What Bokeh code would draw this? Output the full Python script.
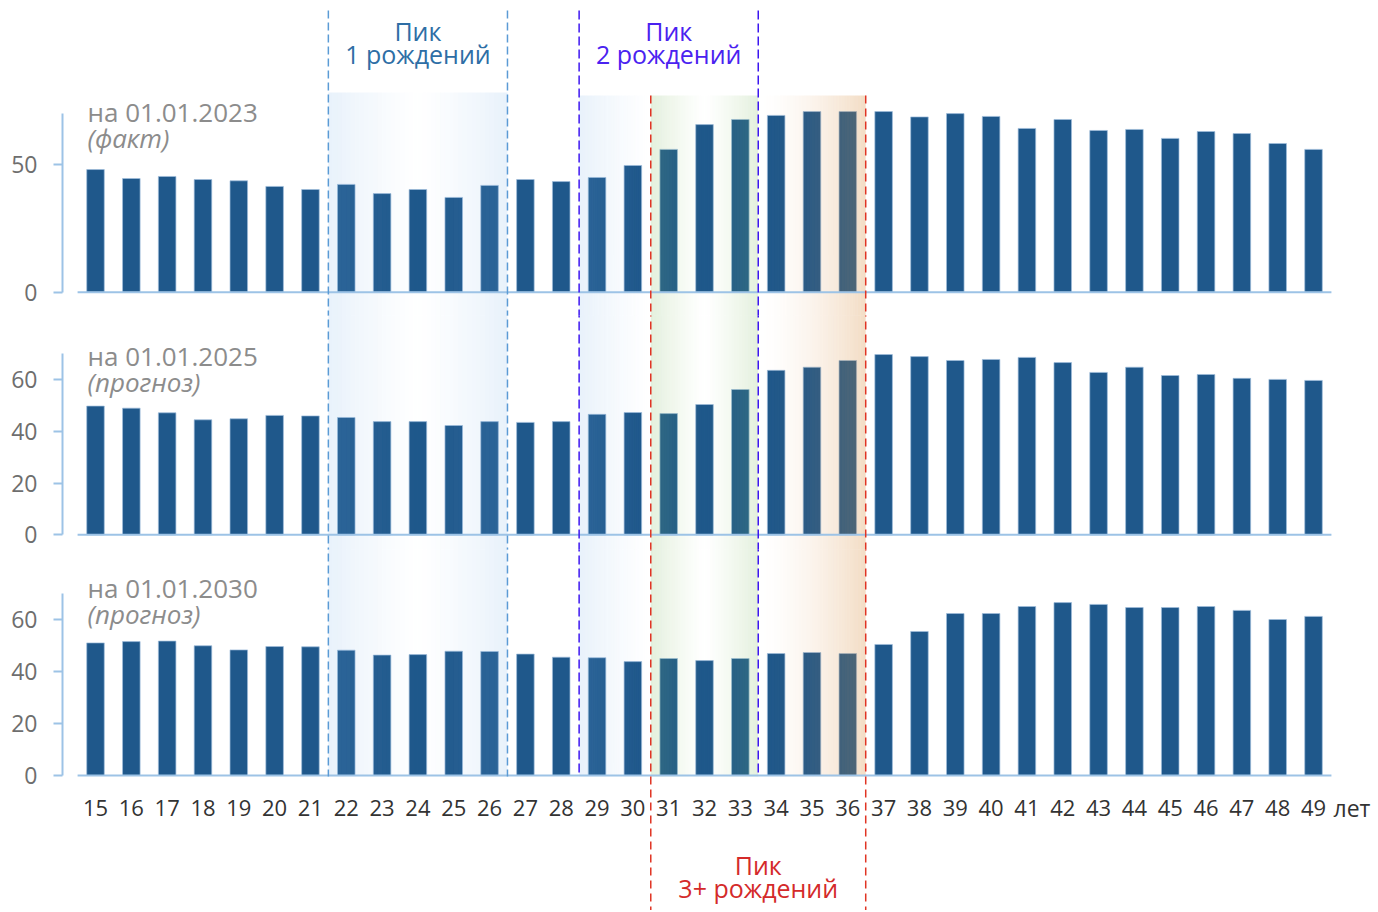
from bokeh.plotting import figure
from bokeh.models import Range1d, FixedTicker, ColumnDataSource
from bokeh.layouts import column
from bokeh.core.properties import value
from bokeh.embed import file_html
from bokeh.resources import INLINE

# ---------------- data ----------------
ages = list(range(15, 50))
age_labels = [str(a) for a in ages]
vals_2023 = [48.0, 44.5, 45.3, 44.1, 43.6, 41.4, 40.2, 42.2, 38.6, 40.2, 37.1, 41.8,
             44.1, 43.3, 44.9, 49.6, 55.9, 65.6, 67.6, 69.2, 70.7, 70.7, 70.7, 68.6,
             69.9, 68.8, 64.1, 67.6, 63.3, 63.7, 60.2, 62.9, 62.1, 58.2, 55.9]
vals_2025 = [49.7, 48.9, 47.1, 44.4, 44.8, 46.1, 45.9, 45.3, 43.7, 43.7, 42.2, 43.7,
             43.4, 43.7, 46.5, 47.2, 46.8, 50.3, 56.1, 63.5, 64.7, 67.3, 69.6, 68.8,
             67.3, 67.7, 68.5, 66.5, 62.7, 64.7, 61.5, 61.9, 60.4, 60.0, 59.6]
vals_2030 = [51.0, 51.5, 51.7, 49.9, 48.3, 49.6, 49.5, 48.2, 46.3, 46.5, 47.8, 47.7,
             46.7, 45.5, 45.3, 43.8, 45.0, 44.2, 45.0, 46.9, 47.3, 46.9, 50.4, 55.4,
             62.3, 62.3, 65.0, 66.5, 65.8, 64.6, 64.6, 65.0, 63.5, 60.0, 61.2]
panel_titles = ["на 01.01.2023", "на 01.01.2025", "на 01.01.2030"]
panel_subtitles = ["(факт)", "(прогноз)", "(прогноз)"]
panel_ticks = [[0, 50], [0, 20, 40, 60], [0, 20, 40, 60]]
peak1_text = ["Пик", "1 рождений"]
peak2_text = ["Пик", "2 рождений"]
peak3_text = ["Пик", "3+ рождений"]
unit_label = "лет"

# ---------------- style / layout ----------------
FONT = value("Open Sans")
BAR = "#1f588b"
AXC = "#9dc3e6"
PX0, SP = 95.0, 35.824          # screen x of first bar centre, spacing
FRAME_L, FRAME_R = 62.0, 1376.0
TXT_DY = -10                    # text baseline correction
x_range = Range1d(15 + (FRAME_L - PX0) / SP, 15 + (FRAME_R - PX0) / SP)

OV = 3  # overlap between stacked figures (px)
# (zero screen y, px per unit, frame top, frame bottom)
panels = [(291.7, 2.555, 0, 318), (534.3, 2.59, 318 - OV, 552), (775.0, 2.6, 552 - OV, 910)]

# shading regions: x0, x1, colour, max alpha, profile, top y, bottom y
shades = [
    (21.5, 26.5, "#78afe6", 0.17, "both", 92, 776),
    (28.5, 30.5, "#78afe6", 0.17, "left", 95, 776),
    (30.5, 33.5, "#7dba5f", 0.21, "both", 95, 776),
    (33.5, 36.5, "#d78c3c", 0.30, "right", 95, 776),
]
# vertical dashed lines: x, colour, dash, top y, bottom y
vlines = [
    (21.5, "#5b9bd5", "8 4", 10, 776), (26.5, "#5b9bd5", "8 4", 10, 776),
    (28.5, "#3d16f0", "9 4", 10, 776), (33.5, "#3d16f0", "9 4", 10, 776),
    (30.5, "#e03424", "8 5", 95, 912), (36.5, "#e03424", "8 5", 95, 912),
]

all_vals = [vals_2023, vals_2025, vals_2030]
figs = []
for idx, (zero, ppu, ftop, fbot) in enumerate(panels):
    d = lambda py, z=zero, k=ppu: (z - py) / k
    p = figure(width=int(FRAME_R), height=int(fbot - ftop), x_range=x_range,
               y_range=Range1d(d(fbot), d(ftop)),
               x_axis_location=None, toolbar_location=None,
               output_backend="svg", min_border_left=int(FRAME_L), min_border_right=0,
               min_border_top=0, min_border_bottom=0)
    if idx > 0:
        p.margin = (-OV, 0, 0, 0)
    p.outline_line_color = None
    p.xgrid.visible = False
    p.ygrid.visible = False
    p.background_fill_color = "white"
    p.border_fill_color = "white"

    # y axis
    ax = p.yaxis[0]
    ax.ticker = FixedTicker(ticks=panel_ticks[idx])
    ax.bounds = (0, 70)
    ax.axis_line_color = AXC
    ax.axis_line_width = 2
    ax.major_tick_line_color = AXC
    ax.major_tick_line_width = 2
    ax.major_tick_out = 9
    ax.major_tick_in = 0
    ax.minor_tick_line_color = None
    ax.major_label_standoff = 16
    ax.major_label_text_font = "Open Sans"
    ax.major_label_text_font_size = "23px"
    ax.major_label_text_color = "#6e6e6e"

    # bars
    src = ColumnDataSource(dict(x=ages, top=all_vals[idx]))
    p.vbar(x="x", top="top", bottom=0, width=0.49, source=src,
           fill_color=BAR, line_color="#9fbedb", line_width=1, line_alpha=0.7)

    # gradient shading overlay (extends past frame edges to avoid seams)
    qs = dict(left=[], right=[], top=[], bottom=[], color=[], alpha=[])
    N = 40
    for (x0, x1, col, amax, prof, stop, sbot) in shades:
        a_top = stop if stop > ftop else ftop - 20
        a_bot = sbot if sbot < fbot else fbot + 20
        if a_top >= a_bot:
            continue
        for i in range(N):
            t = (i + 0.5) / N
            if prof == "both":
                a = amax * abs(2 * t - 1) ** 1.2
            elif prof == "left":
                a = amax * (1 - t) ** 1.3
            else:
                a = amax * t ** 1.6
            qs["left"].append(x0 + (x1 - x0) * i / N)
            qs["right"].append(x0 + (x1 - x0) * (i + 1) / N)
            qs["top"].append(d(a_top))
            qs["bottom"].append(d(a_bot))
            qs["color"].append(col)
            qs["alpha"].append(a)
    if qs["left"]:
        p.quad(left="left", right="right", top="top", bottom="bottom",
               fill_color="color", fill_alpha="alpha", line_color=None,
               source=ColumnDataSource(qs))

    # baseline
    p.segment(x0=[14.5], y0=[0], x1=[49.5], y1=[0], line_color=AXC, line_width=2)

    # dashed vertical lines
    for (xv, col, dash, vtop, vbot) in vlines:
        a_top = vtop if vtop > ftop else ftop - 20
        a_bot = vbot if vbot < fbot else fbot + 20
        if a_top >= a_bot:
            continue
        p.segment(x0=[xv], y0=[d(a_top)], x1=[xv], y1=[d(a_bot)],
                  line_color=col, line_width=1.5, line_dash=dash)

    # panel labels
    title_base = [121, 365, 597][idx] + TXT_DY
    xl = 15 + (87 - PX0) / SP
    p.text(x=[xl], y=[d(title_base)], text=[panel_titles[idx]],
           text_font=FONT, text_font_size="26px", text_color="#8c8c8c",
           text_baseline="alphabetic", text_align="left")
    p.text(x=[xl], y=[d(title_base + 26)], text=[panel_subtitles[idx]],
           text_font=FONT, text_font_size="26px", text_color="#8c8c8c",
           text_font_style="italic", text_baseline="alphabetic", text_align="left")

    if idx == 0:
        for lines, xc, col in [(peak1_text, 24.0, "#2e6ea5"), (peak2_text, 31.0, "#4a22f0")]:
            p.text(x=[xc, xc], y=[d(40 + TXT_DY), d(63 + TXT_DY)], text=lines, text_font=FONT,
                   text_font_size="25px", text_color=col, text_align="center",
                   text_baseline="alphabetic")
    if idx == 2:
        p.text(x=ages, y=[d(817 + TXT_DY)] * len(ages), text=age_labels, text_font=FONT,
               text_font_size="22px", text_color="#333333", text_align="center",
               text_baseline="alphabetic")
        p.text(x=[15 + (1333 - PX0) / SP], y=[d(817 + TXT_DY)], text=[unit_label], text_font=FONT,
               text_font_size="23px", text_color="#333333", text_align="left",
               text_baseline="alphabetic")
        p.text(x=[33.5, 33.5], y=[d(874 + TXT_DY), d(897 + TXT_DY)], text=peak3_text,
               text_font=FONT, text_font_size="25px", text_color="#d42a2a",
               text_align="center", text_baseline="alphabetic")
    figs.append(p)

layout = column(*figs, spacing=0)
open("out.html", "w").write(file_html(layout, INLINE))
